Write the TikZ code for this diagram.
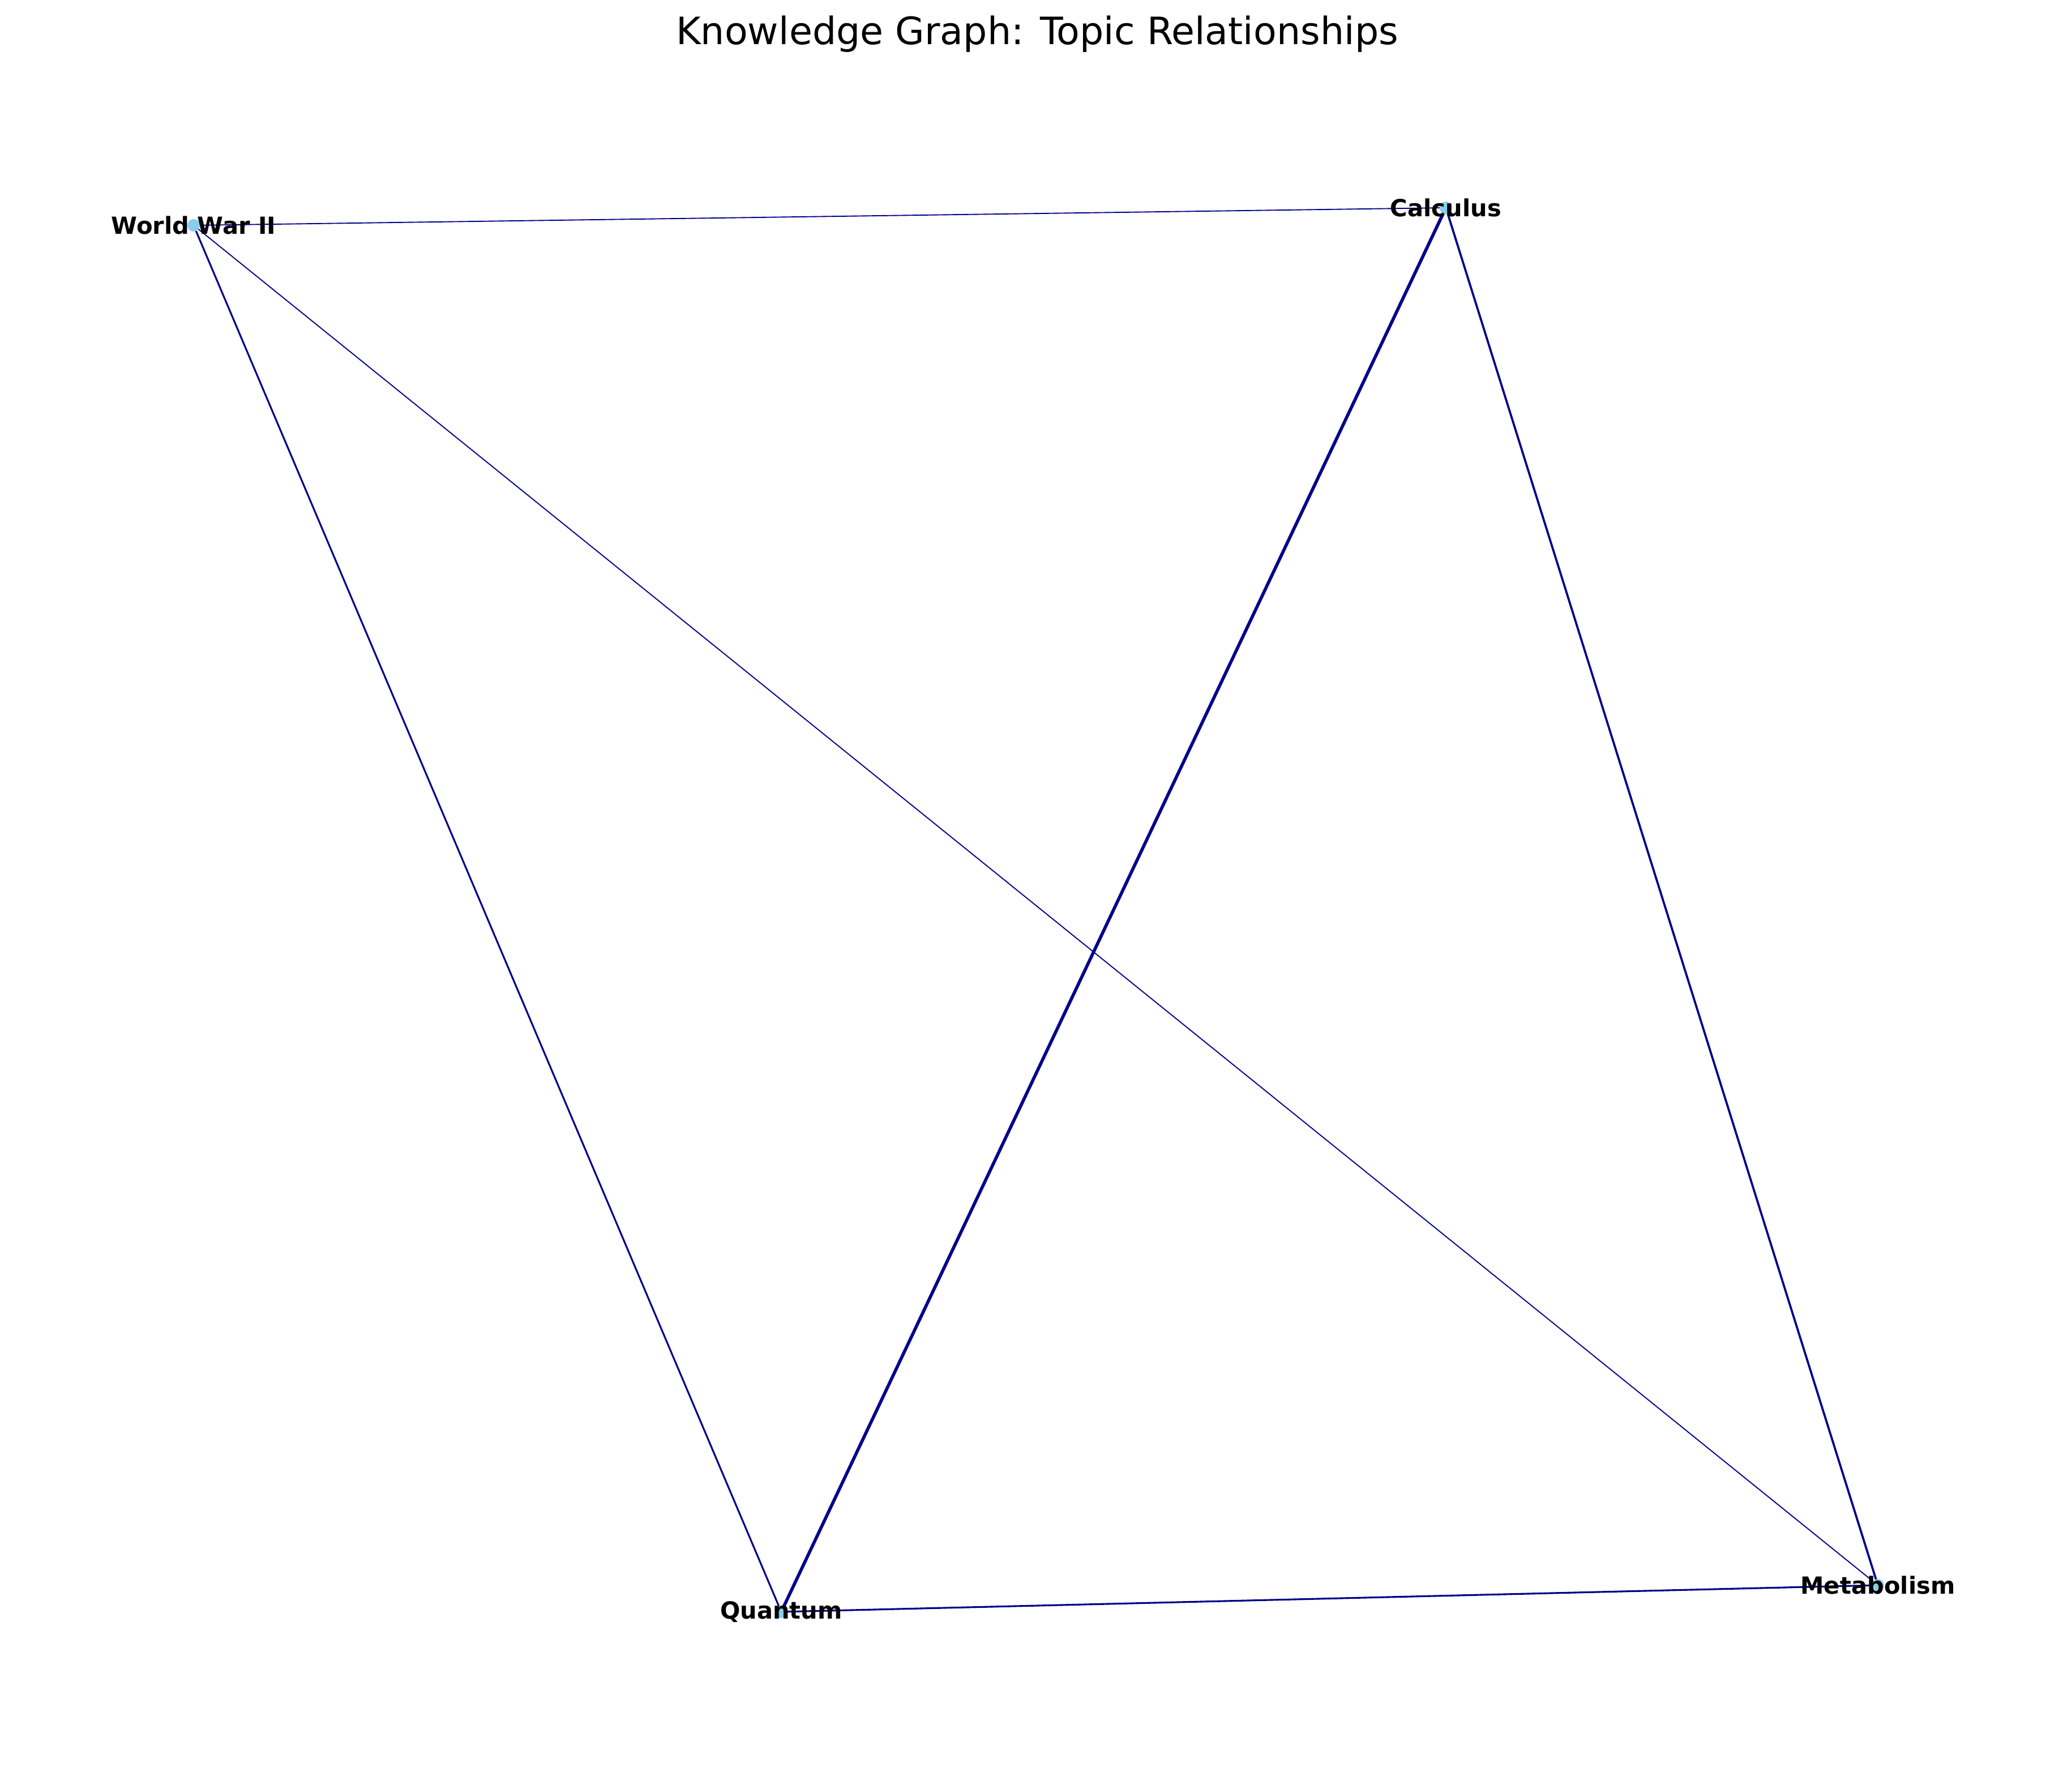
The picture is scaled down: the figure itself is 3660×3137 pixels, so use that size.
\documentclass[tikz,border=0pt]{standalone}
\usepackage{fontspec}
\setmainfont{DejaVu Sans}
\begin{document}
\begin{tikzpicture}[x=0.24pt,y=-0.24pt,
  edge/.style={draw=edgeblue,line cap=round},
  topic/.style={circle,fill=nodeblue,inner sep=0pt,minimum size=5.3pt},
  lbl/.style={font=\bfseries\fontsize{10}{12}\selectfont,text=black,inner sep=0pt},
]
\definecolor{edgeblue}{HTML}{00008B}
\definecolor{nodeblue}{HTML}{87CEEB}
\useasboundingbox (0,0) rectangle (3660,3137);
\fill[white] (0,0) rectangle (3660,3137);
\node (title) at (1832,60) {\fontsize{16}{19}\selectfont Knowledge Graph: Topic Relationships};
\coordinate (ww) at (342,398);
\coordinate (ca) at (2554,367);
\coordinate (qu) at (1380,2847);
\coordinate (me) at (3317,2800);
\draw[edge,line width=0.45pt] (ww) -- (ca);
\draw[edge,line width=0.45pt] (ww) -- (me);
\draw[edge,line width=0.75pt] (ww) -- (qu);
\draw[edge,line width=1.35pt] (ca) -- (qu);
\draw[edge,line width=0.9pt] (ca) -- (me);
\draw[edge,line width=0.75pt] (qu) -- (me);
\node[topic] (wwn) at (ww) {};
\node[topic] (can) at (ca) {};
\node[topic] (qun) at (qu) {};
\node[topic] (men) at (me) {};
\node[lbl] (wwl) at (ww) {World War II};
\node[lbl] (cal) at (ca) {Calculus};
\node[lbl] (qul) at (qu) {Quantum};
\node[lbl] (mel) at (me) {Metabolism};
\end{tikzpicture}
\end{document}
